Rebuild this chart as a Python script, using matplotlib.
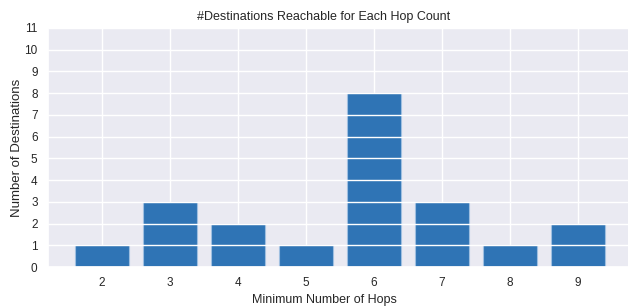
import matplotlib
matplotlib.use("Agg")
import matplotlib.pyplot as plt
import seaborn as sns

hops = [2, 3, 4, 5, 6, 7, 8, 9]
destinations = [1, 3, 2, 1, 8, 3, 1, 2]

sns.set_theme(style="darkgrid")
plt.rcParams["font.family"] = ["Liberation Sans", "DejaVu Sans"]

fig = plt.figure(figsize=(6.28, 3.08), dpi=100)
ax = fig.add_axes([48 / 628, 1 - 267 / 308, (632 - 48) / 628, (267 - 28) / 308])

ax.bar(hops, destinations, width=0.8, color="#2f74b5", edgecolor="#9fbfe0", linewidth=0.8)

# vertical grid below the bars, horizontal grid on top of them
ax.xaxis.set_zorder(0.5)
ax.yaxis.set_zorder(2.5)

ax.set_xticks(hops)
ax.set_yticks(range(0, 12))
ax.set_ylim(0, 11)
ax.tick_params(labelsize=8.5, length=0, pad=7.5)

# the reference centres its labels a bit left of this axes' middle
mid = (324 - 48) / (632 - 48)
ax.set_xlabel("Minimum Number of Hops", fontsize=9, labelpad=3)
ax.xaxis.label.set_x(mid)
ax.set_ylabel("Number of Destinations", fontsize=9.5, labelpad=1)
ax.set_title("#Destinations Reachable for Each Hop Count", fontsize=9, pad=6, x=mid)

fig.savefig("out.png", dpi=100)
